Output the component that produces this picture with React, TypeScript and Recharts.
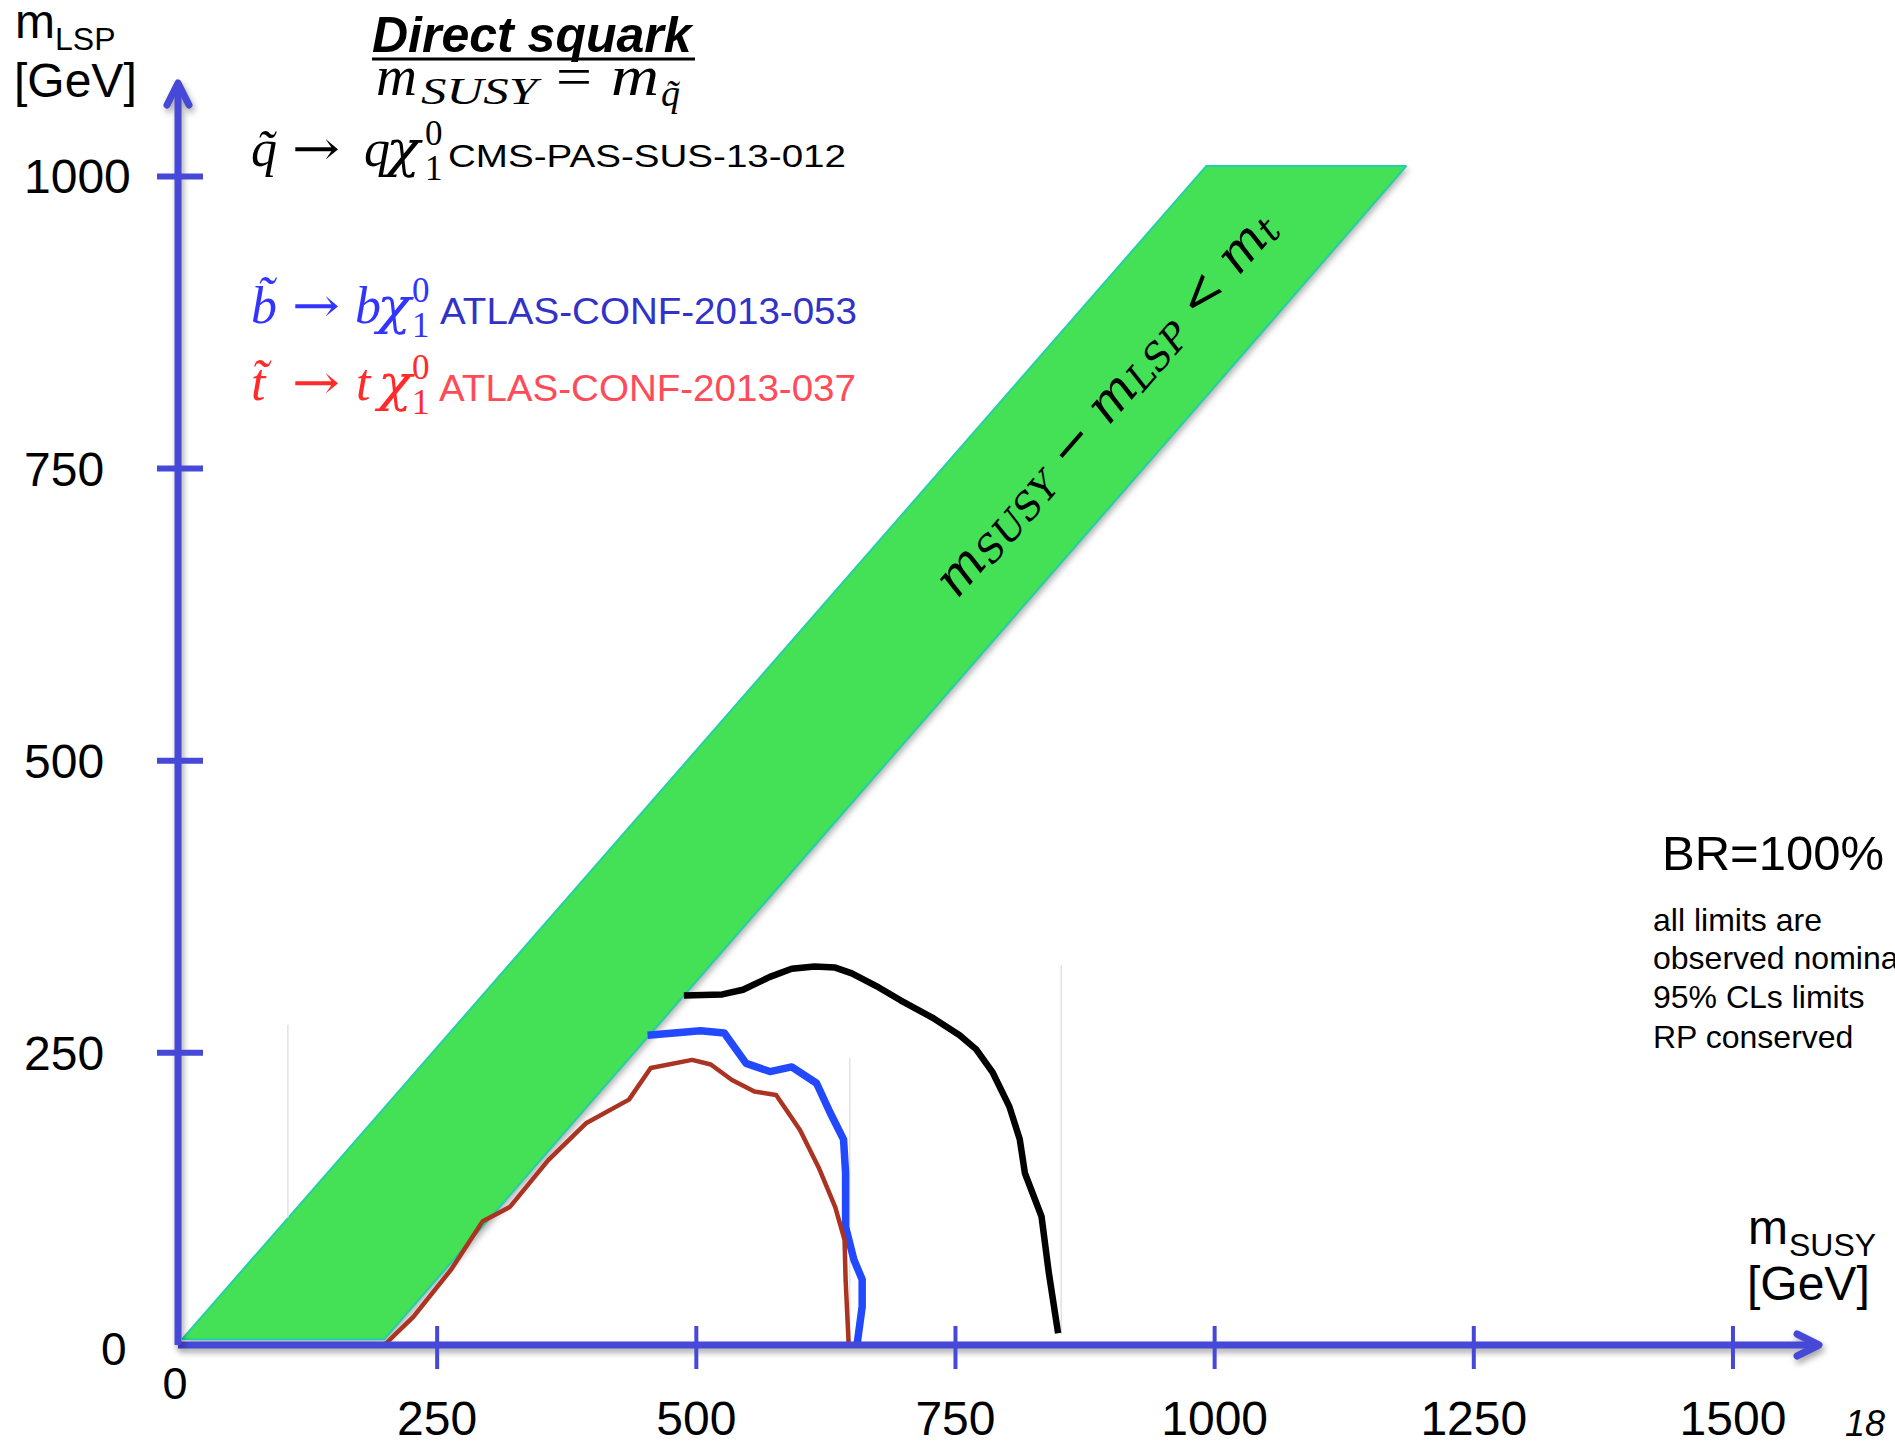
import React from "react";
import { ComposedChart, Line, Area, XAxis, YAxis } from "recharts";

const AXIS_BLUE = "#4648d8";
const SANS = "'Liberation Sans', Arial, Helvetica, sans-serif";
const SERIF = "'Liberation Serif', 'DejaVu Serif', serif";
const DJSERIF = "'DejaVu Serif', serif";

// axis ticks
const xTicks = [0, 250, 500, 750, 1000, 1250, 1500];
const yTicks = [0, 250, 500, 750, 1000];

// green band m_SUSY - m_LSP < m_t, corners
const bandMSusy = [4, 199, 992, 1185];
const bandLow = [5, 5, 812, 1009];
const bandHigh = [5, 203, 1009, 1009];

// CMS-PAS-SUS-13-012, squark (black)
const cmsMSusy = [488, 525, 545, 571, 592, 614, 634, 650, 676, 697, 728, 754, 770, 786, 802, 812, 817, 833, 840, 849];
const cmsMLsp = [299, 300, 304, 315, 322, 324, 323, 318, 306, 295, 280, 265, 253, 233, 204, 176, 147, 110, 62, 10];

// ATLAS-CONF-2013-053, sbottom (blue)
const sbotMSusy = [453, 504, 527, 548, 571, 592, 616, 629, 642, 644, 644, 652, 660, 660, 655];
const sbotMLsp = [265, 269, 267, 241, 234, 238, 224, 199, 176, 147, 101, 73, 56, 33, 0];

// ATLAS-CONF-2013-037, stop (red)
const stopMSusy = [199, 227, 263, 294, 320, 357, 394, 435, 456, 496, 514, 534, 556, 577, 600, 618, 634, 643, 644, 647];
const stopMLsp = [0, 24, 64, 106, 118, 158, 190, 210, 237, 244, 240, 227, 217, 214, 184, 152, 118, 90, 56, 0];

// faint edges of pasted images on the slide (visible part only)
const seamMSusy = [106, 648, 852];
const seamBottom = [109, 0, 9];
const seamTop = [274, 246, 325];

const pts = (xs: number[], ys: number[]) => xs.map((x, i) => ({ x, y: ys[i] }));
const bandData = bandMSusy.map((x, i) => ({ x, range: [bandLow[i], bandHigh[i]] }));

function XTick(props: any) {
  const { x, y, payload } = props;
  const v = payload.value;
  if (v === 0) {
    return (
      <text x={x - 3} y={y + 54} textAnchor="middle" fontSize={45} fontFamily={SANS} fill="#000">
        0
      </text>
    );
  }
  return (
    <g>
      <line x1={x} x2={x} y1={y - 19} y2={y + 24} stroke={AXIS_BLUE} strokeWidth={4} />
      <text x={x} y={y + 90} textAnchor="middle" fontSize={48} fontFamily={SANS} fill="#000">
        {v}
      </text>
    </g>
  );
}

function YTick(props: any) {
  const { x, y, payload } = props;
  const v = payload.value;
  if (v === 0) {
    return (
      <text x={101} y={y + 20} fontSize={46} fontFamily={SANS} fill="#000">
        0
      </text>
    );
  }
  return (
    <g>
      <line x1={x - 21} x2={x + 25} y1={y} y2={y} stroke={AXIS_BLUE} strokeWidth={6} />
      <text x={24} y={y + 17} fontSize={48} fontFamily={SANS} fill="#000">
        {v}
      </text>
    </g>
  );
}

type DecayProps = {
  y: number;
  sq: string;
  q: string;
  qx: number;
  idx: number;
  color: string;
  label: string;
  labelX: number;
  labelColor: string;
  labelSize: number;
  labelLen: number;
};

function Decay({ y, sq, q, qx, idx, color, label, labelX, labelColor, labelSize, labelLen }: DecayProps) {
  return (
    <g fontFamily={SERIF} fill={color}>
      <text x={251} y={y} fontSize={52} fontStyle="italic">{sq}</text>
      <text x={292} y={y - 1} fontSize={48} fontFamily={DJSERIF} textLength={48} lengthAdjust="spacingAndGlyphs">→</text>
      <text x={qx} y={y} fontSize={52} fontStyle="italic">{q}</text>
      <text x={qx + 22} y={y} fontSize={50} fontFamily={DJSERIF} fontStyle="italic" textLength={34} lengthAdjust="spacingAndGlyphs">χ</text>
      <text x={idx} y={y - 21} fontSize={35}>0</text>
      <text x={idx} y={y + 14} fontSize={35}>1</text>
      <text x={labelX} y={y + 1} fontSize={labelSize} fontFamily={SANS} fill={labelColor} textLength={labelLen} lengthAdjust="spacingAndGlyphs">
        {label}
      </text>
    </g>
  );
}

function Annotations() {
  return (
    <svg width={1895} height={1444} style={{ position: "absolute", left: 0, top: 0, pointerEvents: "none" }}>
      {/* y axis title */}
      <text x={15} y={38} fontSize={48} fontFamily={SANS}>m</text>
      <text x={55} y={50} fontSize={32} fontFamily={SANS}>LSP</text>
      <text x={14} y={97} fontSize={48} fontFamily={SANS}>[GeV]</text>

      {/* title */}
      <text x={372} y={52} fontSize={50} fontFamily={SANS} fontWeight="bold" fontStyle="italic">Direct squark</text>
      <line x1={372} x2={695} y1={59} y2={59} stroke="#000" strokeWidth={3} />
      <g fontFamily={SERIF} fontStyle="italic">
        <text x={376} y={95} fontSize={56} textLength={41} lengthAdjust="spacingAndGlyphs">m</text>
        <text x={421} y={104} fontSize={37} textLength={116} lengthAdjust="spacingAndGlyphs">SUSY</text>
        <text x={556} y={95} fontSize={54} fontStyle="normal" textLength={36} lengthAdjust="spacingAndGlyphs">=</text>
        <text x={611} y={95} fontSize={56} textLength={48} lengthAdjust="spacingAndGlyphs">m</text>
        <text x={661} y={106} fontSize={38}>q̃</text>
      </g>

      <Decay y={166} sq="q̃" q="q" qx={364} idx={425} color="#000" label="CMS-PAS-SUS-13-012" labelX={448} labelColor="#000" labelSize={31} labelLen={398} />
      <Decay y={323} sq="b̃" q="b" qx={355} idx={412} color="#3434ff" label="ATLAS-CONF-2013-053" labelX={440} labelColor="#3232c8" labelSize={37} labelLen={417} />
      <Decay y={400} sq="t̃" q="t" qx={356} idx={412} color="#ff2a2a" label="ATLAS-CONF-2013-037" labelX={439} labelColor="#ff4a58" labelSize={37} labelLen={417} />

      {/* band label */}
      <g transform="translate(1105,403) rotate(-49)">
        <text x={0} y={0} textAnchor="middle" dominantBaseline="central" fontFamily={DJSERIF} fontStyle="italic" fontSize={51}>
          m<tspan fontSize={37} dy={9}>SUSY</tspan>
          <tspan dy={-9}> − m</tspan>
          <tspan fontSize={37} dy={9}>LSP</tspan>
          <tspan dy={-9}> &lt; m</tspan>
          <tspan fontSize={37} dy={9}>t</tspan>
        </text>
      </g>

      {/* right-hand notes */}
      <text x={1662} y={870} fontSize={49} fontFamily={SANS}>BR=100%</text>
      <g fontSize={32} fontFamily={SANS}>
        <text x={1653} y={931}>all limits are</text>
        <text x={1653} y={969}>observed nominal</text>
        <text x={1653} y={1008}>95% CLs limits</text>
        <text x={1653} y={1048}>RP conserved</text>
      </g>

      {/* x axis title */}
      <text x={1748} y={1244} fontSize={48} fontFamily={SANS}>m</text>
      <text x={1789} y={1256} fontSize={32} fontFamily={SANS}>SUSY</text>
      <text x={1747} y={1300} fontSize={48} fontFamily={SANS}>[GeV]</text>

      <text x={1845} y={1436} fontSize={36} fontFamily={SANS} fontStyle="italic">18</text>
    </svg>
  );
}

export default function App() {
  return (
    <div style={{ position: "absolute", left: 0, top: 0, width: 1895, height: 1444, overflow: "hidden", background: "#fff" }}>
      <style>{`
        .recharts-cartesian-axis-line { filter: drop-shadow(2px 4px 3px rgba(0,0,0,0.35)); }
        .recharts-area-area { filter: drop-shadow(3px 3px 3px rgba(0,0,0,0.3)); }
      `}</style>
      <svg width={0} height={0} style={{ position: "absolute" }}>
        <defs>
          <marker
            id="axisArrow"
            markerUnits="userSpaceOnUse"
            markerWidth={40}
            markerHeight={40}
            viewBox="-30 -20 40 40"
            refX={0}
            refY={0}
            orient="auto-start-reverse"
          >
            <path d="M-22,-11 L0,0 L-22,11" fill="none" stroke={AXIS_BLUE} strokeWidth={7} strokeLinecap="round" strokeLinejoin="round" />
          </marker>
        </defs>
      </svg>
      <ComposedChart width={1895} height={1444} margin={{ top: 83, right: 76, bottom: 59, left: 138 }}>
        <XAxis
          type="number"
          dataKey="x"
          domain={[0, 1583]}
          ticks={xTicks}
          interval={0}
          height={40}
          tickSize={0}
          tickMargin={0}
          tickLine={false}
          tick={XTick}
          axisLine={{ stroke: AXIS_BLUE, strokeWidth: 7, markerEnd: "url(#axisArrow)" }}
        />
        <YAxis
          type="number"
          domain={[0, 1080]}
          ticks={yTicks}
          interval={0}
          width={40}
          tickSize={0}
          tickMargin={0}
          tickLine={false}
          tick={YTick}
          axisLine={{ stroke: AXIS_BLUE, strokeWidth: 7, markerStart: "url(#axisArrow)" }}
        />
        <Area data={bandData} dataKey="range" type="linear" fill="#44e055" fillOpacity={1} stroke="#22d0a8" strokeWidth={2} dot={false} activeDot={false} isAnimationActive={false} />
        {seamMSusy.map((sx, i) => (
          <Line
            key={"seam" + i}
            data={pts([sx, sx], [seamBottom[i], seamTop[i]])}
            dataKey="y"
            type="linear"
            stroke="#e2e2e2"
            strokeWidth={1.5}
            dot={false}
            activeDot={false}
            isAnimationActive={false}
          />
        ))}
        <Line data={pts(cmsMSusy, cmsMLsp)} dataKey="y" type="linear" stroke="#000" strokeWidth={6.5} strokeLinejoin="round" dot={false} activeDot={false} isAnimationActive={false} />
        <Line data={pts(sbotMSusy, sbotMLsp)} dataKey="y" type="linear" stroke="#2349ff" strokeWidth={7.5} strokeLinejoin="round" dot={false} activeDot={false} isAnimationActive={false} />
        <Line data={pts(stopMSusy, stopMLsp)} dataKey="y" type="linear" stroke="#aa3322" strokeWidth={4.5} strokeLinejoin="round" dot={false} activeDot={false} isAnimationActive={false} />
      </ComposedChart>
      <Annotations />
    </div>
  );
}
